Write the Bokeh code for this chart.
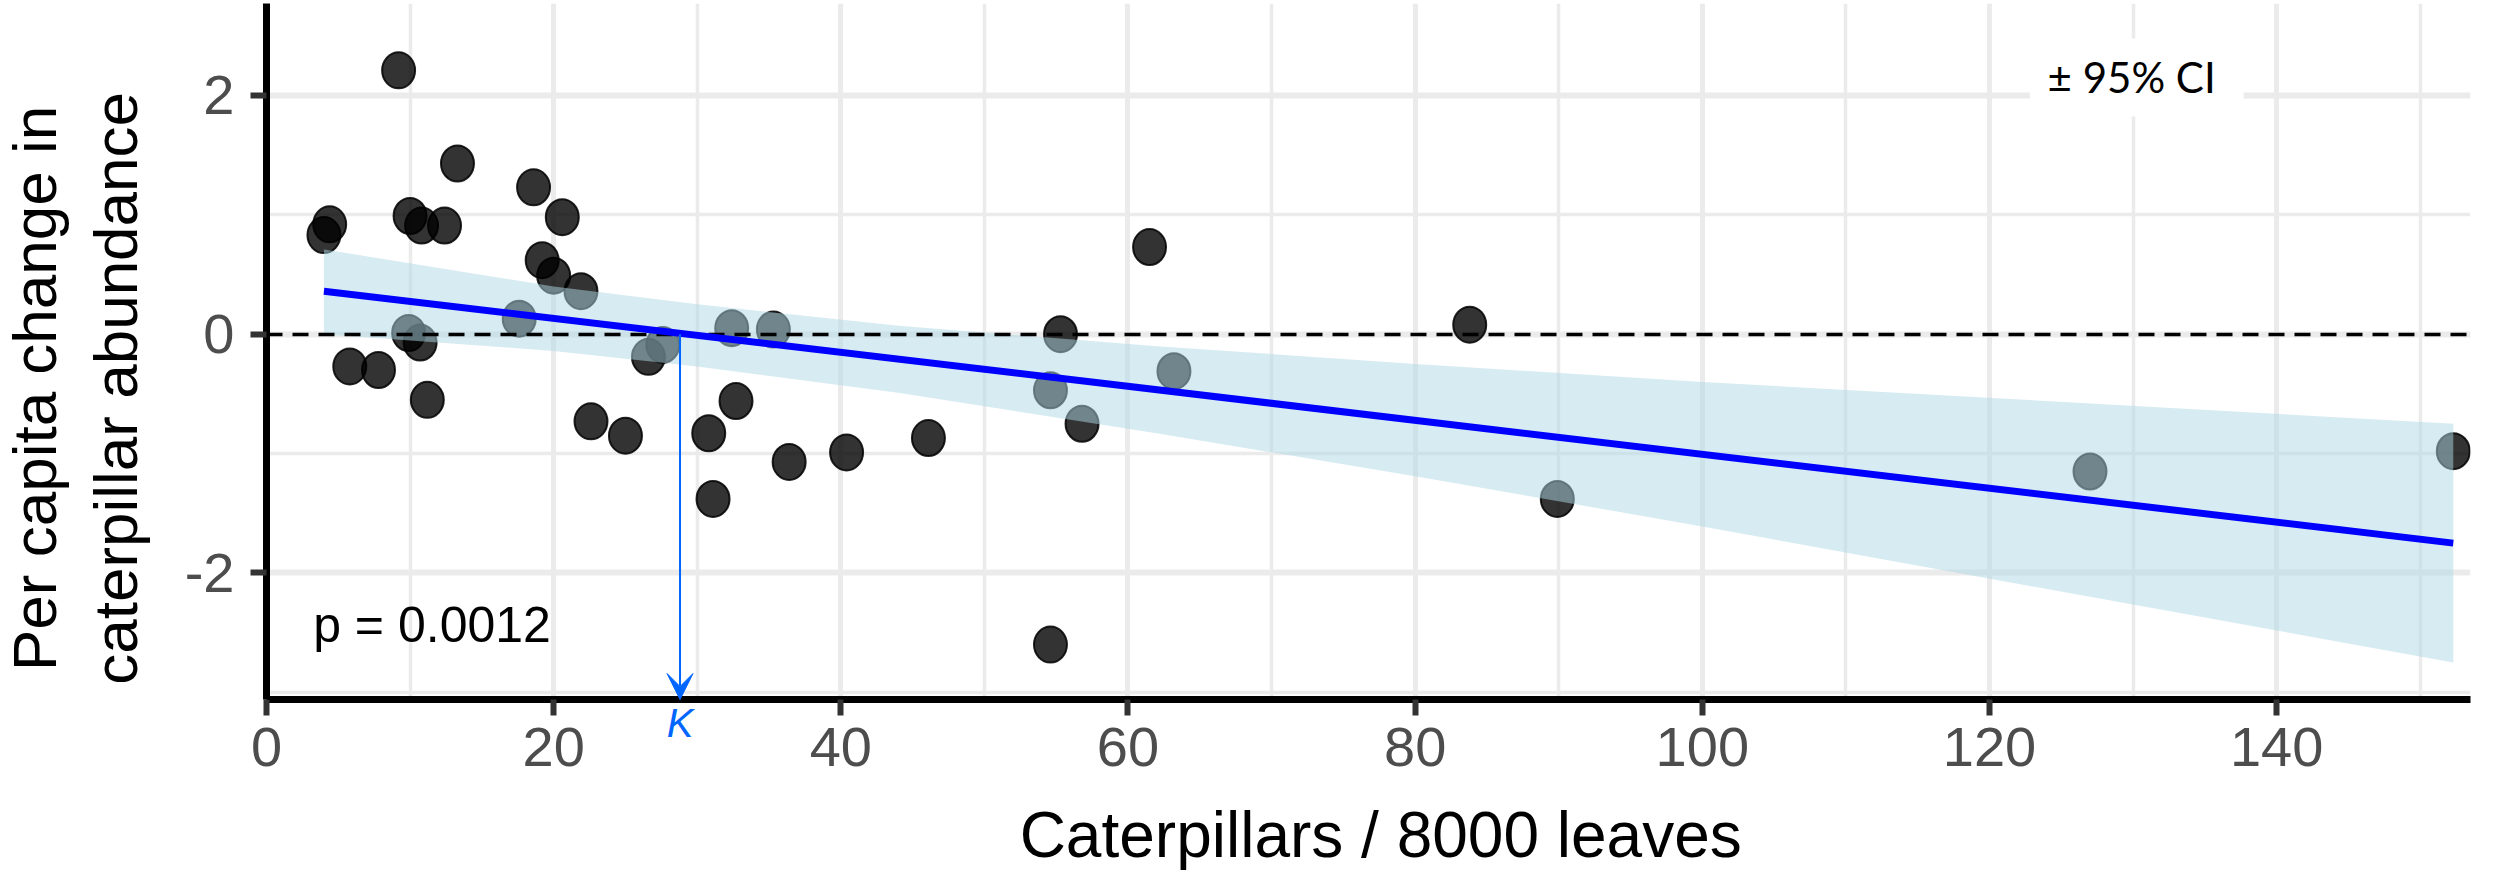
from bokeh.plotting import figure
from bokeh.models import Label, Arrow, VeeHead, FixedTicker, Range1d, BoxAnnotation
from bokeh.embed import file_html
from bokeh.resources import INLINE

# ---------------- data ----------------
caterpillars = [9.2, 13.3, 18.6, 20.6, 4.4, 4.0, 10.0, 10.8, 12.4, 19.2,
                20.0, 21.9, 17.6, 9.9, 10.7, 5.8, 7.8, 11.2, 26.6, 27.6,
                32.4, 35.3, 22.6, 25.0, 30.8, 32.7, 31.1, 36.4, 40.4, 46.1,
                54.6, 54.6, 55.3, 56.8, 61.5, 63.2, 83.8, 89.9, 127.0, 152.3]
per_capita_change = [2.21, 1.43, 1.23, 0.98, 0.92, 0.83, 0.99, 0.91, 0.91, 0.62,
                     0.49, 0.36, 0.13, 0.01, -0.07, -0.27, -0.30, -0.55, -0.19, -0.09,
                     0.05, 0.04, -0.73, -0.85, -0.83, -0.56, -1.38, -1.07, -0.99, -0.87,
                     -2.60, -0.47, 0.00, -0.75, 0.73, -0.31, 0.08, -1.38, -1.15, -0.98]
fit_x = [4.0, 152.3]
fit_y = [0.36, -1.75]
ci_x = [4.0, 20.0, 30.0, 44.0, 62.0, 80.0, 100.0, 127.0, 152.3]
ci_upper = [0.71, 0.40, 0.25, 0.07, -0.10, -0.25, -0.40, -0.58, -0.75]
ci_lower = [0.00, -0.14, -0.27, -0.49, -0.83, -1.19, -1.61, -2.20, -2.75]
K = 28.8
p_text = "p = 0.0012"
ci_text = "± 95% CI"
x_title = "Caterpillars / 8000 leaves"
y_title = ["Per capita change in", "caterpillar abundance"]
x_ticks = [0, 20, 40, 60, 80, 100, 120, 140]
x_minor = [10, 30, 50, 70, 90, 110, 130, 150]
y_ticks = [-2, 0, 2]
y_minor = [-3, -1, 1]
y_tick_labels = {-2: "-2", 0: "0", 2: "2"}

X0, X1 = 0.0, 153.5
Y0, Y1 = -3.06, 2.77

FONT = "Liberation Sans, Arial, sans-serif"

p = figure(width=2494, height=876, output_backend="svg", toolbar_location=None,
           x_range=Range1d(X0, X1), y_range=Range1d(Y0, Y1),
           min_border_left=266, min_border_right=24, min_border_top=3,
           min_border_bottom=177)
p.outline_line_color = None
p.background_fill_color = "white"
p.border_fill_color = "white"

# grid
p.xaxis.ticker = FixedTicker(ticks=x_ticks, minor_ticks=x_minor)
p.yaxis.ticker = FixedTicker(ticks=y_ticks, minor_ticks=y_minor)
p.yaxis.major_label_overrides = y_tick_labels
p.xgrid.grid_line_color = "#EBEBEB"
p.xgrid.grid_line_width = 5
p.xgrid.minor_grid_line_color = "#EBEBEB"
p.xgrid.minor_grid_line_width = 3.5
p.ygrid.grid_line_color = "#EBEBEB"
p.ygrid.grid_line_width = 6
p.ygrid.minor_grid_line_color = "#EBEBEB"
p.ygrid.minor_grid_line_width = 3.5

for ax in (p.xaxis[0], p.yaxis[0]):
    ax.axis_line_color = "black"
    ax.axis_line_width = 7
    ax.major_tick_line_color = "#333333"
    ax.major_tick_line_width = 6
    ax.major_tick_out = 16
    ax.major_tick_in = 0
    ax.minor_tick_line_color = None
    ax.major_label_text_font = FONT
    ax.major_label_text_font_size = "56px"
    ax.major_label_text_color = "#4D4D4D"
p.xaxis.major_label_standoff = 12
p.yaxis.major_label_standoff = 16

# CI label box (white, hides grid)
p.quad(left=[122.8], right=[137.7], bottom=[1.824], top=[2.477],
       fill_color="white", line_color=None)

# points
p.ellipse(x=caterpillars, y=per_capita_change, width=33, height=36,
          width_units="screen", height_units="screen",
          fill_color="black", fill_alpha=0.8, line_color="black",
          line_alpha=0.85, line_width=2)

# confidence band on top of points
p.varea(x=ci_x, y1=ci_lower, y2=ci_upper, fill_color="#ADD8E6", fill_alpha=0.5)

# zero reference line
p.hspan(y=[0], line_color="black", line_width=3.5, line_dash="16 10")

# regression line
p.line(x=fit_x, y=fit_y, line_color="#0000FF", line_width=7)

# K arrow
p.add_layout(Arrow(end=VeeHead(size=26, fill_color="#0066FF", line_color="#0066FF"),
                   x_start=K, y_start=0, x_end=K, y_end=Y0,
                   line_color="#0066FF", line_width=2))

# in-frame texts
p.add_layout(Label(x=3.25, y=-2.437, text=p_text, text_font=FONT,
                   text_font_size="50px", text_color="black",
                   text_align="left", text_baseline="alphabetic"))
p.add_layout(Label(x=129.9, y=2.153, text=ci_text, text_font="Lato",
                   text_font_size="42px", text_color="black",
                   text_align="center", text_baseline="alphabetic"))

# texts outside the frame: placed in side panels so that they are not clipped
p.add_layout(Label(x=K, y=-3.253, text="K", text_font=FONT, text_font_style="italic",
                   text_font_size="40px", text_color="#0066FF",
                   text_align="center", text_baseline="alphabetic"), "left")
p.add_layout(Label(x=77.6, y=-4.198, text=x_title, text_font=FONT,
                   text_font_size="64px", text_color="black",
                   text_align="center", text_baseline="alphabetic"), "below")
p.add_layout(Label(x=-16.15, y=-0.454, text=y_title[0], text_font=FONT,
                   text_font_size="62px", text_color="black", angle=1.5707963,
                   text_align="center", text_baseline="alphabetic"), "left")
p.add_layout(Label(x=-10.51, y=-0.454, text=y_title[1], text_font=FONT,
                   text_font_size="62px", text_color="black", angle=1.5707963,
                   text_align="center", text_baseline="alphabetic"), "left")

# thin gray text-box border artefact beside the y title (top and left edges)
p.add_layout(BoxAnnotation(left=-10.36, right=-10.26, top=2.335, bottom=-3.285,
                           fill_color="#BFBFBF", fill_alpha=1, line_color=None), "left")
p.add_layout(BoxAnnotation(left=-10.36, right=-7.03, top=2.341, bottom=2.329,
                           fill_color="#BFBFBF", fill_alpha=1, line_color=None), "left")

open("out.html", "w").write(file_html(p, INLINE))
